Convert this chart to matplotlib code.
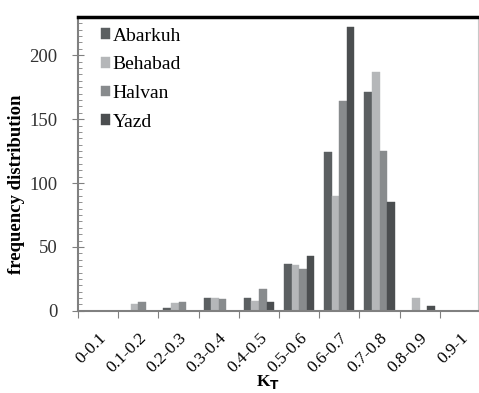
import matplotlib.pyplot as plt
import numpy as np

classes = ['0-0.1', '0.1-0.2', '0.2-0.3', '0.3-0.4', '0.4-0.5',
           '0.5-0.6', '0.6-0.7', '0.7-0.8', '0.8-0.9', '0.9-1']
stations = ['Abarkuh', 'Behabad', 'Halvan', 'Yazd']

abarkuh = [0, 0, 2, 10, 10, 37, 124, 171, 0, 0]
behabad = [0, 5, 6, 10, 8, 36, 90, 187, 10, 0]
halvan = [0, 7, 7, 9, 17, 33, 164, 125, 0, 0]
yazd = [0, 0, 0, 0, 7, 43, 222, 85, 4, 0]

colors = ['#5b5f61', '#b5b7b9', '#888b8d', '#4b4e50']

plt.rcParams['font.family'] = ['Liberation Serif', 'DejaVu Serif']

fig = plt.figure(figsize=(4.79, 3.93), dpi=100)
ax = fig.add_axes([0.163, 0.209, 0.835, 0.748])

x = np.arange(len(classes))
w = 0.1875
for k, (vals, name) in enumerate(zip([abarkuh, behabad, halvan, yazd], stations)):
    ax.bar(x + (k - 1.5) * w, vals, width=w, color=colors[k], label=name,
           edgecolor=colors[k], linewidth=0.3)

ax.set_xlim(-0.5, 9.45)
ax.set_ylim(0, 230)

# tick marks on class boundaries, labels in the middle of each class
ax.set_xticks(np.arange(-0.5, 9, 1))
ax.set_xticklabels([])
ax.set_xticks(x, minor=True)
ax.set_xticklabels(classes, minor=True, rotation=45, ha='right', va='top',
                   rotation_mode='anchor', fontsize=12.5)
ax.tick_params(axis='x', which='major', direction='out', length=5, color='#808080')
ax.tick_params(axis='x', which='minor', length=0, pad=14)

ax.set_yticks([0, 50, 100, 150, 200])
ax.set_yticks(np.arange(0, 231, 5), minor=True)
ax.tick_params(axis='y', which='major', direction='inout', length=8, color='#808080',
               labelsize=13.5, labelcolor='#333333', pad=11)
ax.tick_params(axis='y', which='minor', direction='in', length=3, color='#808080')

for side in ['left', 'bottom']:
    ax.spines[side].set_color('#808080')
    ax.spines[side].set_linewidth(1.5)
ax.spines['right'].set_color('#c8c8c8')
ax.spines['right'].set_linewidth(0.8)
ax.spines['top'].set_color('black')
ax.spines['top'].set_linewidth(2.5)

ax.set_ylabel('frequency distribution', fontsize=13.5, fontweight='bold')
ax.yaxis.set_label_coords(-0.133, 0.43)
ax.set_xlabel(r'K$_\mathbf{T}$', fontsize=12.5, fontweight='bold')
ax.xaxis.set_label_coords(0.475, -0.212)

ax.legend(loc='upper left', frameon=False, fontsize=14, handlelength=0.45,
          handleheight=0.45, handletextpad=0.15, labelspacing=0.6,
          borderaxespad=0.15, bbox_to_anchor=(0.03, 1.0))

fig.savefig('out.png', dpi=100)
